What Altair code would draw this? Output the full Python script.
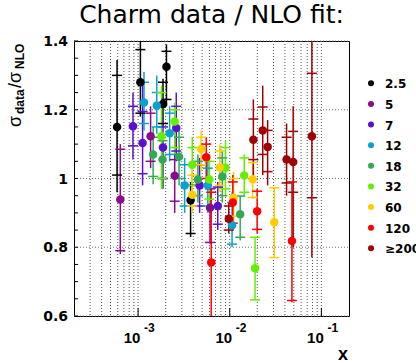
import altair as alt
import pandas as pd

# ---------------- data ----------------
series_names = ["2.5", "5", "7", "12", "18", "32", "60", "120", "≥200"]
series_colors = ["#000000", "#8b0a8b", "#5a0fd2", "#0aa0d0", "#30aa55",
                 "#66ee00", "#ffcc00", "#ff0000", "#a00000"]

pt_series = ["2.5", "2.5", "2.5", "2.5", "2.5",
             "5", "5", "5", "5",
             "7", "7", "7", "7", "7", "7",
             "12", "12", "12", "12", "12", "12",
             "18", "18", "18", "18", "18", "18",
             "32", "32", "32", "32", "32", "32", "32",
             "60", "60", "60", "60", "60", "60",
             "120", "120", "120", "120", "120",
             "≥200", "≥200", "≥200", "≥200", "≥200", "≥200", "≥200"]
pt_x = [5.9e-4, 1.06e-3, 2.04e-3, 1.87e-3, 3.74e-3,
        6.4e-4, 1.37e-3, 2.51e-3, 6.1e-3,
        8.8e-4, 1.12e-3, 1.87e-3, 2.61e-3, 4.69e-3, 7.4e-3,
        1.16e-3, 1.6e-3, 2.21e-3, 3.22e-3, 5.77e-3, 1.06e-2,
        1.46e-3, 1.85e-3, 2.8e-3, 4.49e-3, 8.3e-3, 1.3e-2,
        1.8e-3, 2.51e-3, 3.9e-3, 6.0e-3, 8.98e-3, 1.44e-2, 1.89e-2,
        4.87e-3, 3.9e-3, 7.8e-3, 1.1e-2, 1.78e-2, 3.06e-2,
        5.54e-3, 6.28e-3, 1.08e-2, 1.99e-2, 4.77e-2,
        1.81e-2, 2.29e-2, 2.59e-2, 4.17e-2, 4.92e-2, 7.87e-2, 9.76e-3]
pt_y = [1.15, 1.28, 1.325, 1.217, 0.937,
        0.939, 1.123, 1.008, 0.915,
        1.152, 1.103, 1.09, 1.147, 0.98, 0.92,
        1.221, 1.212, 1.132, 0.98, 0.98, 0.864,
        1.07, 1.055, 1.063, 0.997, 1.006, 0.896,
        1.123, 1.166, 1.04, 0.997, 1.031, 1.009, 0.739,
        1.086, 0.953, 1.032, 0.944, 0.998, 0.873,
        1.062, 0.756, 0.93, 0.905, 0.818,
        1.113, 1.14, 1.092, 1.055, 1.048, 1.123, 0.883]
pt_lo = [0.96, 1.18, 1.21, 1.15, 0.83,
         0.78, 1.03, 0.90, 0.81,
         1.055, 0.98, 0.97, 1.05, 0.90, 0.85,
         1.14, 1.13, 1.05, 0.90, 0.90, 0.80,
         0.983, 0.97, 0.98, 0.93, 0.93, 0.82,
         0.97, 1.07, 0.96, 0.92, 0.95, 0.95, 0.647,
         1.02, 0.90, 0.96, 0.87, 0.94, 0.77,
         0.98, 0.55, 0.85, 0.84, 0.64,
         1.0, 1.01, 0.98, 0.95, 0.80, 0.77, 0.84]
pt_hi = [1.345, 1.40, 1.39, 1.29, 0.99,
         1.10, 1.21, 1.12, 0.98,
         1.25, 1.28, 1.17, 1.25, 1.06, 0.99,
         1.31, 1.30, 1.21, 1.06, 1.05, 0.96,
         1.15, 1.13, 1.15, 1.07, 1.08, 0.95,
         1.27, 1.22, 1.12, 1.07, 1.11, 1.07, 0.83,
         1.14, 1.03, 1.10, 1.02, 1.05, 0.973,
         1.12, 0.97, 1.01, 0.97, 0.99,
         1.23, 1.27, 1.17, 1.16, 1.21, 1.45, 0.93]
pt_cap_lo = [1.01, 1.19, 1.23, 1.16, 0.84,
             0.79, 1.05, 0.934, 0.814,
             1.095, 1.014, 1.0, 1.08, 0.92, 0.867,
             1.16, 1.15, 1.07, 0.92, 0.92, 0.809,
             1.006, 1.0, 1.0, 0.95, 0.95, 0.829,
             1.0, 1.09, 0.98, 0.94, 0.97, 0.96, 0.647,
             1.04, 0.92, 0.98, 0.89, 0.945, 0.77,
             1.0, 0.59, 0.87, 0.852, 0.645,
             1.055, 1.07, 1.02, 0.987, 0.96, 0.944, 0.85]
pt_cap_hi = [1.30, 1.375, 1.37, 1.28, 0.98,
             1.085, 1.19, 1.055, 0.97,
             1.21, 1.195, 1.15, 1.21, 1.04, 0.975,
             1.28, 1.25, 1.19, 1.04, 1.03, 0.93,
             1.12, 1.11, 1.12, 1.05, 1.06, 0.949,
             1.25, 1.2, 1.09, 1.05, 1.09, 1.06, 0.829,
             1.12, 1.01, 1.08, 1.0, 1.046, 0.973,
             1.10, 0.96, 0.99, 0.963, 0.99,
             1.173, 1.208, 1.14, 1.12, 1.137, 1.306, 0.92]

grid_x = [3e-4, 4e-4, 5e-4, 6e-4, 7e-4, 8e-4, 9e-4, 1e-3,
          2e-3, 3e-3, 4e-3, 5e-3, 6e-3, 7e-3, 8e-3, 9e-3, 1e-2,
          2e-2, 3e-2, 4e-2, 5e-2, 6e-2, 7e-2, 8e-2, 9e-2, 1e-1]
decades = [1e-3, 1e-2, 1e-1]
decade_base = ["10", "10", "10"]
decade_exp = ["-3", "-2", "-1"]
y_major = [0.6, 0.8, 1.0, 1.2, 1.4]
y_major_labels = ["0.6", "0.8", "1", "1.2", "1.4"]
y_minor = [0.6, 0.65, 0.7, 0.75, 0.8, 0.85, 0.9, 0.95, 1.0, 1.05, 1.1,
           1.15, 1.2, 1.25, 1.3, 1.35, 1.4]

df = pd.DataFrame({"series": pt_series, "x": pt_x, "y": pt_y, "lo": pt_lo,
                   "hi": pt_hi, "cap_lo": pt_cap_lo, "cap_hi": pt_cap_hi})
order_map = {s: i for i, s in enumerate(series_names)}
df["ord"] = [order_map[s] for s in df["series"]]
df = df.sort_values("ord", kind="stable").reset_index(drop=True)

df_dec = pd.DataFrame({"t": decades, "base": decade_base, "exp": decade_exp})
df_ym = pd.DataFrame({"v": y_minor})
df_grid = pd.DataFrame({"g": grid_x})
df_ymaj = pd.DataFrame({"v": y_major, "lab": y_major_labels})
df_leg = pd.DataFrame({"series": series_names})

W, H = 275, 275
xscale = alt.Scale(type="log", domain=[2e-4, 0.2])
yscale = alt.Scale(domain=[0.6, 1.4])
cscale = alt.Scale(domain=series_names, range=series_colors)
FONT = "Liberation Sans"
FONT2 = "DejaVu Sans"

# grid lines drawn as rules through the scales
vgrid = alt.Chart(df_grid).mark_rule(color="#555555", strokeWidth=1,
                                     strokeDash=[1, 2]).encode(
    x=alt.X("g:Q", scale=xscale, axis=None),
    y=alt.value(0), y2=alt.value(H),
)
hgrid = alt.Chart(df_ymaj).mark_rule(color="#777777", strokeWidth=1,
                                     strokeDash=[1, 2]).encode(
    y=alt.Y("v:Q", scale=yscale, axis=None),
    x=alt.value(0), x2=alt.value(W),
)
ylabels = alt.Chart(df_ymaj).mark_text(
    align="right", baseline="middle", dx=-6, dy=1, fontSize=14,
    fontWeight="bold", font=FONT2, color="black"
).encode(y=alt.Y("v:Q", scale=yscale, axis=None), x=alt.value(0),
         text="lab:N")

base = alt.Chart(df)

bars = base.mark_rule(strokeWidth=1.5, clip=True).encode(
    x=alt.X("x:Q", scale=xscale, axis=None),
    y=alt.Y("lo:Q", scale=yscale, axis=None),
    y2="hi:Q",
    color=alt.Color("series:N", scale=cscale, legend=None),
)

caps = base.transform_fold(["cap_lo", "cap_hi"], as_=["k", "capv"]).mark_tick(
    orient="horizontal", size=10, thickness=1.5, opacity=1, clip=True
).encode(
    x=alt.X("x:Q", scale=xscale, axis=None),
    y=alt.Y("capv:Q", scale=yscale, axis=None),
    color=alt.Color("series:N", scale=cscale, legend=None),
)

points = base.mark_circle(size=72, opacity=1, clip=True).encode(
    x=alt.X("x:Q", scale=xscale, axis=None),
    y=alt.Y("y:Q", scale=yscale, axis=None),
    color=alt.Color("series:N", scale=cscale, legend=None),
)

ytick_rules = alt.Chart(df_ym).mark_rule(color="black", strokeWidth=1).encode(
    y=alt.Y("v:Q", scale=yscale, axis=None),
    x=alt.value(0), x2=alt.value(4),
)
xtick_rules = alt.Chart(df_dec).mark_rule(color="black", strokeWidth=1).encode(
    x=alt.X("t:Q", scale=xscale, axis=None),
    y=alt.value(H), y2=alt.value(H - 8),
)

dec_base = alt.Chart(df_dec).mark_text(
    align="center", baseline="alphabetic", dx=-6, fontSize=15,
    fontWeight="bold", font=FONT, color="black"
).encode(x=alt.X("t:Q", scale=xscale, axis=None), y=alt.value(301.5),
         text="base:N")
dec_exp = alt.Chart(df_dec).mark_text(
    align="left", baseline="alphabetic", dx=6, fontSize=12,
    fontWeight="bold", font=FONT, color="black"
).encode(x=alt.X("t:Q", scale=xscale, axis=None), y=alt.value(290.5),
         text="exp:N")

one = pd.DataFrame({"a": [0]})
xtitle = alt.Chart(one).mark_text(
    text="x", align="center", baseline="alphabetic", fontSize=18,
    fontWeight="bold", font=FONT, color="black"
).encode(x=alt.value(269), y=alt.value(318.5))

# y-axis title pieces: sigma_data / sigma_NLO
def ypiece(txt, xv, yv, size, weight):
    return alt.Chart(one).mark_text(
        text=txt, angle=270, align="left", baseline="alphabetic",
        fontSize=size, fontWeight=weight, font=FONT, color="black"
    ).encode(x=alt.value(xv), y=alt.value(yv))

yt = [ypiece("σ", -53, 86, 18, "normal"),
      ypiece("data", -50, 73, 12, "bold"),
      ypiece("/σ", -53, 47, 18, "normal"),
      ypiece("NLO", -50.5, 28, 12, "bold")]

# legend drawn from the series list through its own point scale
leg_scale = alt.Scale(type="point", domain=series_names, range=[42.3, 207.3],
                      padding=0)
leg_sym = alt.Chart(df_leg).mark_circle(size=36, opacity=1).encode(
    y=alt.Y("series:N", scale=leg_scale, axis=None),
    x=alt.value(297),
    color=alt.Color("series:N", scale=cscale, legend=None),
)
leg_txt = alt.Chart(df_leg).mark_text(
    align="left", baseline="middle", dx=14, dy=1, fontSize=12,
    fontWeight="bold", font=FONT2, color="black"
).encode(
    y=alt.Y("series:N", scale=leg_scale, axis=None),
    x=alt.value(297),
    text="series:N",
)

chart = alt.layer(vgrid, hgrid, ylabels, bars, caps, points, ytick_rules,
                  xtick_rules, dec_base, dec_exp, xtitle, *yt,
                  leg_sym, leg_txt).resolve_scale(y="independent").properties(
    width=W, height=H,
    title=alt.TitleParams("Charm data / NLO fit:", fontSize=25,
                          font="DejaVu Sans", fontWeight="normal",
                          anchor="middle", offset=7, color="black"),
    autosize=alt.AutoSizeParams(type="none"),
    padding={"left": 74, "top": 41, "right": 67, "bottom": 47},
).configure_view(stroke="black", strokeWidth=1)

chart.save("out.html", embed_options={"renderer": "svg", "actions": False})
